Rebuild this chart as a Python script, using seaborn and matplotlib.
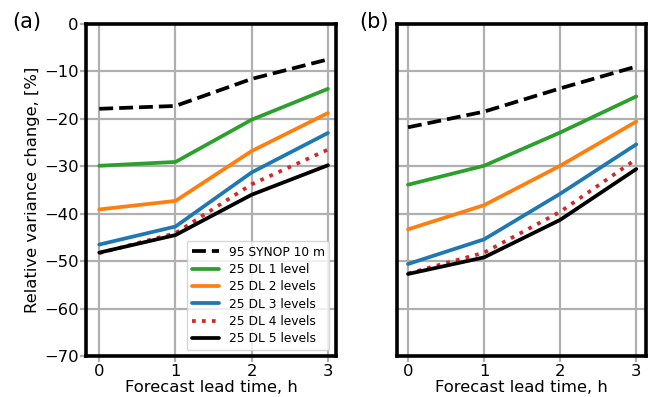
import matplotlib
matplotlib.use("Agg")
import matplotlib.pyplot as plt
import seaborn as sns
import pandas as pd

lead_time = [0, 1, 2, 3]
labels = ["95 SYNOP 10 m", "25 DL 1 level", "25 DL 2 levels",
          "25 DL 3 levels", "25 DL 4 levels", "25 DL 5 levels"]

# panel (a)
a_synop = [-17.9, -17.3, -11.6, -7.5]
a_dl1 = [-29.9, -29.1, -20.2, -13.7]
a_dl2 = [-39.1, -37.3, -26.8, -18.8]
a_dl3 = [-46.5, -42.7, -31.3, -23.0]
a_dl4 = [-48.3, -44.1, -33.8, -26.5]
a_dl5 = [-48.2, -44.5, -36.0, -29.8]

# panel (b)
b_synop = [-21.8, -18.5, -13.6, -9.0]
b_dl1 = [-33.9, -29.9, -22.9, -15.3]
b_dl2 = [-43.3, -38.2, -29.9, -20.6]
b_dl3 = [-50.6, -45.4, -35.8, -25.4]
b_dl4 = [-52.6, -48.2, -39.6, -28.5]
b_dl5 = [-52.7, -49.2, -41.3, -30.6]

colors = ["black", "#2ca02c", "#ff7f0e", "#1f77b4", "#d62728", "black"]
styles = ["--", "-", "-", "-", ":", "-"]

sns.set_style("whitegrid")
plt.rcParams["font.family"] = ["DejaVu Sans"]
plt.rcParams["grid.color"] = "#b0b0b0"
plt.rcParams["grid.linewidth"] = 1.6
plt.rcParams["text.color"] = "black"
plt.rcParams["axes.labelcolor"] = "black"


def make_df(series):
    rows = []
    for lab, vals in zip(labels, series):
        for t, v in zip(lead_time, vals):
            rows.append({"t": t, "val": v, "name": lab})
    return pd.DataFrame(rows)


fig = plt.figure(figsize=(6.54, 3.97), dpi=100)
ax1 = fig.add_axes([0.132, 0.103, 0.381, 0.837])
ax2 = fig.add_axes([0.607, 0.103, 0.381, 0.837])

panels = [(ax1, make_df([a_synop, a_dl1, a_dl2, a_dl3, a_dl4, a_dl5]), "(a)", (-0.17, 3.1), -0.24),
          (ax2, make_df([b_synop, b_dl1, b_dl2, b_dl3, b_dl4, b_dl5]), "(b)", (-0.145, 3.13), -0.094)]

for ax, df, tag, xl, tx in panels:
    for lab, c, ls in zip(labels, colors, styles):
        sub = df[df["name"] == lab]
        sns.lineplot(data=sub, x="t", y="val", ax=ax, color=c, linestyle=ls,
                     linewidth=2.7, label=lab, legend=False)
    ax.set_xlim(*xl)
    ax.set_ylim(-70, 0)
    ax.set_xticks(lead_time)
    ax.set_yticks(range(-70, 1, 10))
    ax.set_xlabel("Forecast lead time, h", fontsize=11.8, labelpad=1)
    ax.tick_params(labelsize=11.8, length=4, width=1.6, color="#b0b0b0",
                   labelcolor="black", direction="out", pad=1.5,
                   left=True, bottom=True)
    for s in ax.spines.values():
        s.set_color("black")
        s.set_linewidth(2.6)
    ax.grid(True)
    ax.text(tx, 1.004, tag, transform=ax.transAxes,
            fontsize=15, ha="center", va="center")

ax1.set_ylabel("Relative variance change, [%]", fontsize=11.8, labelpad=3)
ax2.set_ylabel("")
ax2.set_yticklabels([])
ax2.tick_params(left=False)

ax1.legend(loc="lower right", fontsize=8.8, framealpha=0.8, borderpad=0.4,
           handlelength=2.2, labelspacing=0.35, bbox_to_anchor=(1.0, 0.0))

fig.savefig("out.png", dpi=100)
